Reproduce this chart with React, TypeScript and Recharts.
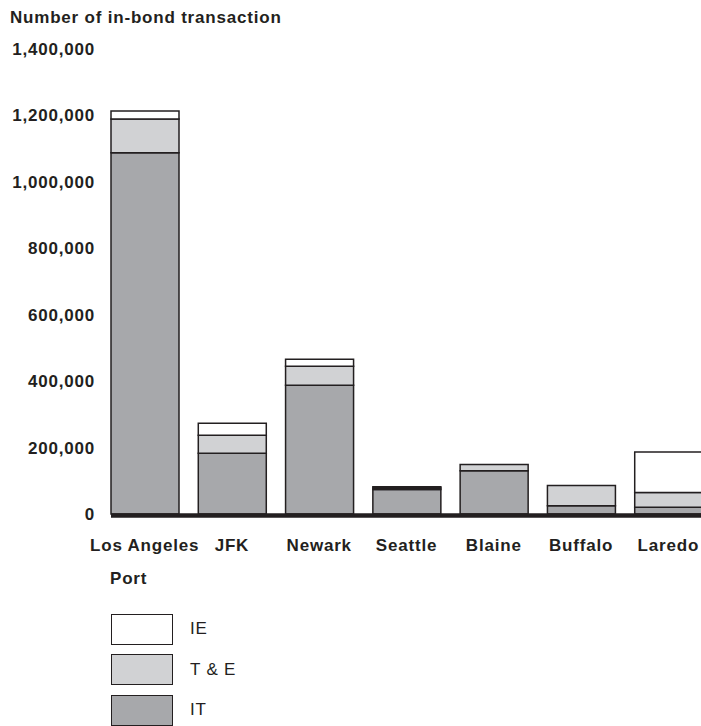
import React from 'react';
import { BarChart, Bar, XAxis, YAxis, Legend, ReferenceLine } from 'recharts';

// values
const ports = ['Los Angeles', 'JFK', 'Newark', 'Seattle', 'Blaine', 'Buffalo', 'Laredo'];
const itValues = [1088000, 183000, 388000, 74000, 130000, 25000, 20000];
const teValues = [101000, 54000, 57000, 4000, 19000, 61000, 45000];
const ieValues = [24000, 36000, 21000, 4000, 0, 0, 122000];
const yTicks = [0, 200000, 400000, 600000, 800000, 1000000, 1200000, 1400000];
const legendOrder = ['IE', 'T & E', 'IT'];

const data = ports.map((port, i) => ({
    port,
    it: itValues[i],
    te: teValues[i],
    ie: ieValues[i],
}));

const INK = '#231f20';
const FONT = "'Liberation Sans', Arial, Helvetica, sans-serif";

const tickStyle = { fill: INK, fontSize: 17, fontWeight: 'bold', letterSpacing: 0.8, fontFamily: FONT };

// Legend: boxes stacked, top item first (IE, T & E, IT)
const LegendContent = ({ payload }: { payload?: { value: string; color: string }[] }) => {
    const items = [...(payload || [])].sort((a, b) => legendOrder.indexOf(a.value) - legendOrder.indexOf(b.value));
    return (
        <div>
            {items.map((item, i) => (
                <div key={i} style={{ display: 'flex', alignItems: 'center', height: 40.5 }}>
                    <span
                        style={{
                            display: 'inline-block',
                            width: 60,
                            height: 29,
                            background: item.color,
                            border: `1.5px solid ${INK}`,
                        }}
                    />
                    <span style={{ marginLeft: 17, fontSize: 17, letterSpacing: 0.8, color: INK }}>{item.value}</span>
                </div>
            ))}
        </div>
    );
};

// thick baseline that starts at the first bar's left edge
const BaseLine = (props: { x1?: number; x2?: number; y1?: number; y2?: number }) => {
    const { x1 = 0, x2 = 0, y1 = 0 } = props;
    return <line x1={x1 + 10} x2={x2} y1={y1 + 1.5} y2={y1 + 1.5} stroke={INK} strokeWidth={4.5} />;
};

export default function App() {
    return (
        <div
            style={{
                position: 'fixed',
                left: 0,
                top: 0,
                width: 701,
                height: 726,
                overflow: 'hidden',
                background: '#fff',
                fontFamily: FONT,
                color: INK,
            }}
        >
            <div style={{ position: 'absolute', left: 10, top: 8, fontSize: 17, fontWeight: 'bold', letterSpacing: 0.8, lineHeight: '20px' }}>
                Number of in-bond transaction
            </div>
            <div style={{ position: 'absolute', left: 110, top: 569, fontSize: 17, fontWeight: 'bold', letterSpacing: 0.8, lineHeight: '20px' }}>
                Port
            </div>
            <BarChart
                width={712}
                height={726}
                data={data}
                margin={{ top: 49, right: 0, left: 0, bottom: 172 }}
            >
                <XAxis
                    dataKey="port"
                    height={40}
                    axisLine={false}
                    tickLine={false}
                    tickSize={0}
                    tickMargin={25}
                    interval={0}
                    tick={tickStyle}
                />
                <YAxis
                    width={101}
                    domain={[0, 1400000]}
                    ticks={yTicks}
                    axisLine={false}
                    tickLine={false}
                    tickSize={0}
                    tickMargin={6}
                    tick={tickStyle}
                    tickFormatter={(v: number) => v.toLocaleString('en-US')}
                />
                <Bar dataKey="it" name="IT" stackId="a" fill="#a7a8ab" stroke={INK} strokeWidth={1.5} barSize={68} isAnimationActive={false} />
                <Bar dataKey="te" name="T & E" stackId="a" fill="#d1d2d4" stroke={INK} strokeWidth={1.5} barSize={68} isAnimationActive={false} />
                <Bar dataKey="ie" name="IE" stackId="a" fill="#ffffff" stroke={INK} strokeWidth={1.5} barSize={68} isAnimationActive={false} />
                <ReferenceLine y={0} shape={BaseLine} ifOverflow="extendDomain" />
                <Legend
                    layout="vertical"
                    align="center"
                    verticalAlign="middle"
                    wrapperStyle={{ left: 111, top: 609, width: 200 }}
                    content={<LegendContent />}
                />
            </BarChart>
        </div>
    );
}
